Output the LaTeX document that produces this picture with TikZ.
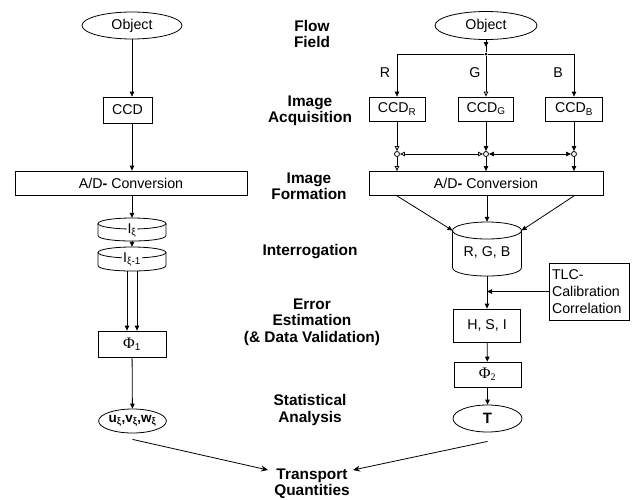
\documentclass[tikz,border=0pt]{standalone}
\usepackage{fontspec}
\setmainfont{Liberation Sans}
\newfontfamily\grk{Liberation Serif}
\usetikzlibrary{arrows.meta,shapes.geometric}
\newcommand\drum[5]{%
  \draw[ln] ({#1-#4},{#2}) -- ({#1-#4},{#3}) .. controls ({#1-#4},{#3+4/3*#5}) and ({#1+#4},{#3+4/3*#5}) .. ({#1+#4},{#3}) -- ({#1+#4},{#2});
  \draw[ln] (#1,#2) ellipse [x radius=#4, y radius=#5];}
\begin{document}
\begin{tikzpicture}[x=1pt,y=-1pt,
  txt/.style={font=\fontsize{14.2}{16}\selectfont},
  box/.style={draw,line width=0.8pt,inner sep=0pt,txt},
  oval/.style={draw,ellipse,line width=0.8pt,inner sep=0pt,txt},
  lbl/.style={font=\fontsize{15.4}{16.3}\selectfont\bfseries,align=center,inner sep=0pt},
  ln/.style={line width=0.8pt},
  arr/.style={ln,-{Triangle[length=5pt,width=4.5pt]}},
  oarr/.style={ln,-{Triangle[open,length=5pt,width=4.5pt]}},
  barr/.style={ln,-{Stealth[length=7pt,width=6pt]}},
  joint/.style={draw,circle,line width=0.8pt,inner sep=0pt,minimum size=5pt},
  ghost/.style={inner sep=0pt}]
\useasboundingbox (0,0) rectangle (638,499);

% ---------- left column ----------
\node[oval,minimum width=100pt,minimum height=27pt] (objL) at (132,25.5) {Object};
\node[box,minimum width=49pt,minimum height=26pt] (ccdL) at (127.5,110) {CCD};
\node[box,minimum width=232pt,minimum height=24pt] (adL) at (131,183) {A/D\textbf{-} Conversion};
\node[ghost,minimum width=68pt,minimum height=23pt] (iA) at (132,229.5) {};
\drum{132}{223.5}{235.5}{34}{5.5}
\node[txt,fill=white,inner sep=1pt] (iAt) at (132,230.5) {I\textsubscript{ξ}};
\node[ghost,minimum width=68pt,minimum height=24pt] (iB) at (132,259) {};
\drum{132}{252.5}{265.5}{34}{5.5}
\node[txt,fill=white,inner sep=1pt] (iBt) at (132,259.5) {I\textsubscript{ξ-1}};
\node[box,minimum width=68pt,minimum height=26pt] (phi1) at (132,344) {{\grk\fontsize{16}{18}\selectfont Φ}\textsubscript{1}};
\node[oval,minimum width=67pt,minimum height=24pt,font=\fontsize{13.5}{15}\selectfont\bfseries] (uvw) at (132.5,421) {u\textsubscript{ξ},v\textsubscript{ξ},w\textsubscript{ξ}};

\draw[arr] (objL.south) -- (objL.south |- ccdL.north);
\draw[arr] (ccdL.south -| objL) -- (adL.north -| objL);
\draw[arr] (adL.south -| iA) -- (iA.north);
\draw[arr] (iA.south) -- (iB.north);
\draw[arr] ([xshift=-5pt]iB.south) -- ([xshift=-5pt]phi1.north);
\draw[arr] ([xshift=5pt]iB.south) -- ([xshift=5pt]phi1.north);
\draw[arr] (phi1) -- (uvw);

% ---------- right column ----------
\node[oval,minimum width=102pt,minimum height=28pt] (objR) at (486,25.5) {Object};
\node[circle,fill,inner sep=0pt,minimum size=3pt] (dot) at (486,54) {};
\coordinate (objRtip) at (486,47);
\node[box,minimum width=56pt,minimum height=24pt] (ccdR) at (397,109) {CCD\textsubscript{R}};
\node[box,minimum width=55pt,minimum height=24pt] (ccdG) at (486,109) {CCD\textsubscript{G}};
\node[box,minimum width=57pt,minimum height=24pt] (ccdB) at (574,109) {CCD\textsubscript{B}};
\node[txt] (lR) at (385,73) {R};
\node[txt] (lG) at (475,73) {G};
\node[txt] (lB) at (558,73) {B};
\node[joint] (jR) at (397,154) {};
\node[joint] (jG) at (486,154) {};
\node[joint] (jB) at (574,154) {};
\node[box,minimum width=234pt,minimum height=24pt] (adR) at (486,183.5) {A/D\textbf{-} Conversion};
\node[ghost,minimum width=69pt,minimum height=54pt] (rgb) at (487,249) {};
\drum{487}{230.5}{267.5}{34.5}{8.5}
\node[txt] (rgbt) at (487,252) {R, G, B};
\coordinate (rgbL) at (452.5,230.5);
\coordinate (rgbR) at (521.5,230.5);
\node[box,minimum width=67pt,minimum height=33pt] (hsi) at (487,325.5) {H, S, I};
\node[box,text width=74pt,inner xsep=3pt,minimum height=57pt,align=left,font=\fontsize{14.2}{17}\selectfont] (tlc) at (589,291.5) {TLC-\\Calibration\\Correlation};
\node[box,minimum width=67pt,minimum height=25pt] (phi2) at (487.5,374.5) {{\grk\fontsize{16}{18}\selectfont Φ}\textsubscript{\grk 2}};
\node[oval,minimum width=69pt,minimum height=27pt,font=\fontsize{15}{16}\selectfont\bfseries] (T) at (487.5,418.5) {T};

\draw[ln] (objR) -- (dot);
\draw[arr] (objR) -- (objRtip);
\draw[arr] (dot) -| (ccdR);
\draw[oarr] (dot) -- (ccdG);
\draw[arr] (dot) -| (ccdB);
\draw[oarr] (ccdR) -- (jR);
\draw[arr] (ccdG) -- (jG);
\draw[arr] (ccdB) -- (jB);
\draw[ln,{Triangle[open,length=5pt,width=4.5pt]}-{Triangle[open,length=5pt,width=4.5pt]}] (jR) -- (jG);
\draw[ln,{Triangle[length=5pt,width=4.5pt]}-{Triangle[length=5pt,width=4.5pt]}] (jG) -- (jB);
\draw[oarr] (jR) -- (jR |- adR.north);
\draw[arr] (jG) -- (adR);
\draw[arr] (jB) -- (jB |- adR.north);
\draw[arr] (jR |- adR.south) -- (rgbL);
\draw[arr] (jB |- adR.south) -- (rgbR);
\draw[arr] (adR.south -| rgb) -- (rgb.north);
\draw[arr] (rgb) -- (hsi);
\draw[arr] (tlc) -- (tlc -| hsi);
\draw[arr] (hsi) -- (phi2);
\draw[arr] (phi2) -- (T);

% ---------- middle labels ----------
\node[lbl] (lFlow) at (312,34) {Flow\\Field};
\node[lbl] (lAcq) at (310,111) {Image\\Acquisition};
\node[lbl] (lForm) at (309,186) {Image\\Formation};
\node[lbl] (lInt) at (310,252) {Interrogation};
\node[lbl] (lErr) at (312,322) {Error\\Estimation\\(\& Data Validation)};
\node[lbl] (lStat) at (310,410) {Statistical\\Analysis};
\node[lbl] (trans) at (312,484) {Transport\\Quantities};

\coordinate (tL) at (268,470);
\coordinate (tR) at (353,470);
\draw[barr] ([yshift=-6pt]uvw.south) -- (tL);
\draw[barr] ([yshift=-9pt]T.south) -- (tR);
\end{tikzpicture}
\end{document}
